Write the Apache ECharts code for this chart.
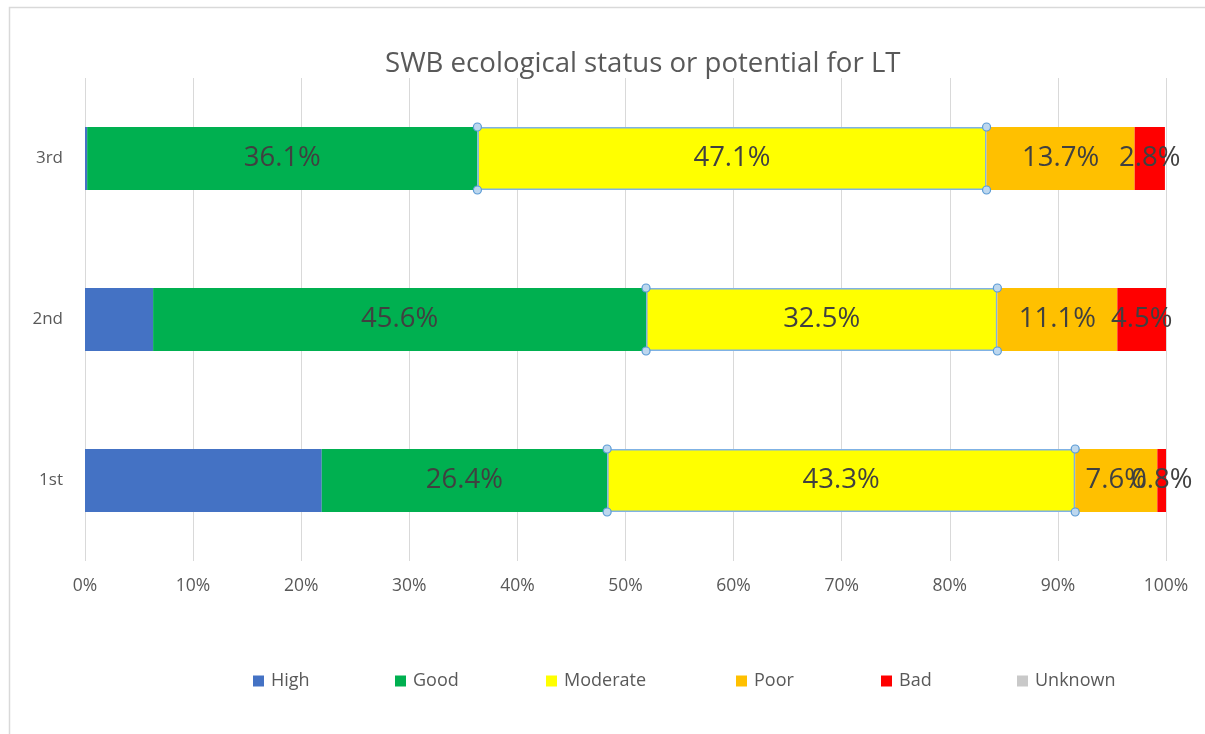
<!DOCTYPE html>
<html>
<head>
<meta charset="utf-8">
<title>SWB ecological status or potential for LT</title>
<script src="https://cdn.jsdelivr.net/npm/echarts@6/dist/echarts.min.js"></script>
<style>
  html, body { margin: 0; padding: 0; background: #fff; }
  #main { width: 1205px; height: 734px; }
</style>
</head>
<body>
<div id="main"></div>
<script>
// categories, bottom to top
var periods = ['1st', '2nd', '3rd'];

// share of water bodies per status class (%)
var high     = [21.9, 6.3, 0.2];
var good     = [26.4, 45.6, 36.1];
var moderate = [43.3, 32.5, 47.1];
var poor     = [7.6, 11.1, 13.7];
var bad      = [0.8, 4.5, 2.8];
var unknown  = [0, 0, 0];

var xTicks = [0, 10, 20, 30, 40, 50, 60, 70, 80, 90, 100];
var legendNames = ['High', 'Good', 'Moderate', 'Poor', 'Bad', 'Unknown'];
var legendLefts = [253, 395, 546, 736, 881, 1017];

var chart = echarts.init(document.getElementById('main'));

var FONT = '"Open Sans", "Noto Sans", sans-serif';
var BAR_W = 63;

function pctLabel(p) {
    return p.value.toFixed(1) + '%';
}

function barSeries(name, data, color, showLabel, extraStyle) {
    var style = { color: color };
    if (extraStyle) {
        for (var k in extraStyle) style[k] = extraStyle[k];
    }
    return {
        name: name,
        type: 'bar',
        stack: 'total',
        barWidth: BAR_W,
        data: data,
        itemStyle: style,
        label: {
            show: showLabel,
            position: 'inside',
            formatter: pctLabel,
            color: '#404040',
            fontSize: 27.5,
            fontFamily: FONT
        },
        emphasis: { disabled: true }
    };
}

// selection handles around the Moderate segments (start/end from the stack)
var handleData = periods.map(function (p, i) {
    var s = high[i] + good[i];
    return [i, s, s + moderate[i]];
});

// one legend block per entry, like the spread-out Excel legend
var legends = legendNames.map(function (n, i) {
    return {
        data: [{ name: n, itemStyle: { borderWidth: 0 } }],
        left: legendLefts[i],
        top: 672,
        padding: 0,
        itemWidth: 11,
        itemHeight: 11,
        icon: 'rect',
        textStyle: { color: '#595959', fontSize: 18, fontFamily: FONT, padding: [0, 0, 0, 2] }
    };
});

var option = {
    backgroundColor: '#ffffff',
    animation: false,
    graphic: [{
        type: 'rect',
        position: [9.5, 7.5],
        shape: { x: 0, y: 0, width: 1400, height: 900 },
        style: { fill: 'none', stroke: '#d9d9d9', lineWidth: 1.5 },
        silent: true
    }],
    title: {
        text: 'SWB ecological status or potential for LT',
        left: 380,
        top: 45,
        textStyle: {
            color: '#595959',
            fontSize: 27.6,
            fontWeight: 'normal',
            fontFamily: FONT
        }
    },
    legend: legends,
    grid: {
        left: 85,
        right: 39,
        top: 78,
        bottom: 173,
        containLabel: false
    },
    xAxis: {
        type: 'value',
        min: xTicks[0],
        max: xTicks[xTicks.length - 1],
        interval: 10,
        axisLine: { show: false },
        axisTick: { show: false },
        axisLabel: {
            formatter: '{value}%',
            color: '#595959',
            fontSize: 17.5,
            fontFamily: FONT,
            margin: 16
        },
        splitLine: { lineStyle: { color: '#d9d9d9', width: 1 } }
    },
    yAxis: {
        type: 'category',
        data: periods,
        axisLine: { show: false },
        axisTick: { show: false },
        axisLabel: {
            color: '#595959',
            fontSize: 17,
            fontFamily: FONT,
            margin: 22
        },
        splitLine: { show: false }
    },
    series: [
        barSeries('High', high, '#4472c4', false),
        barSeries('Good', good, '#00b050', true),
        barSeries('Moderate', moderate, '#ffff00', true,
            { borderColor: '#7fb2e5', borderWidth: 1.5 }),
        barSeries('Poor', poor, '#ffc000', true),
        barSeries('Bad', bad, '#ff0000', true),
        barSeries('Unknown', unknown, '#c9c9c9', false),
        {
            name: 'handles',
            type: 'custom',
            silent: true,
            z: 5,
            encode: { x: [1, 2], y: 0 },
            data: handleData,
            renderItem: function (params, api) {
                var y = api.value(0);
                var a = api.coord([api.value(1), y]);
                var b = api.coord([api.value(2), y]);
                var h = BAR_W / 2;
                var pts = [[a[0], a[1] - h], [a[0], a[1] + h],
                           [b[0], b[1] - h], [b[0], b[1] + h]];
                return {
                    type: 'group',
                    children: pts.map(function (pt) {
                        return {
                            type: 'circle',
                            shape: { cx: pt[0], cy: pt[1], r: 4 },
                            style: { fill: '#bdd7ee', stroke: '#5b9bd5', lineWidth: 1.2 }
                        };
                    })
                };
            }
        }
    ]
};

chart.setOption(option);
</script>
</body>
</html>
